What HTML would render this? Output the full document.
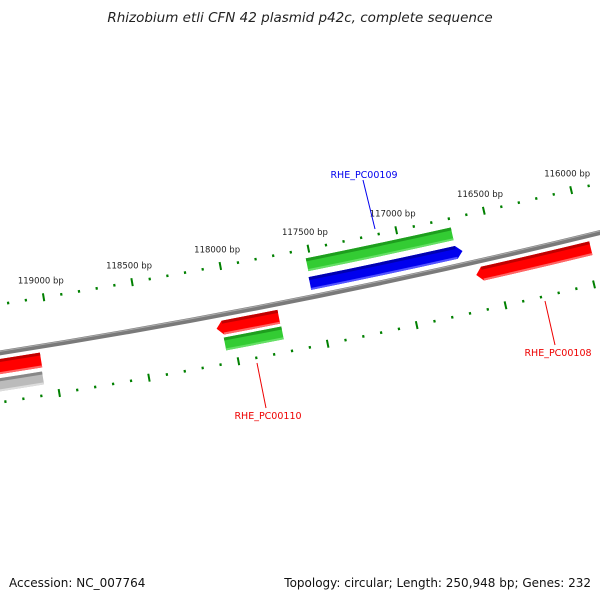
<!DOCTYPE html>
<html><head><meta charset="utf-8"><style>
html,body{margin:0;padding:0;background:#fff;width:600px;height:600px;overflow:hidden}
svg{display:block;font-family:"DejaVu Sans","Liberation Sans",sans-serif}
</style></head><body>
<svg id="map" width="600" height="600" viewBox="0 0 600 600">
<text x="300" y="22" text-anchor="middle" font-size="13.5" font-style="italic" fill="#222">Rhizobium etli CFN 42 plasmid p42c, complete sequence</text>
<text x="9" y="587" font-size="12" fill="#111">Accession: NC_007764</text>
<text x="591" y="587" text-anchor="end" font-size="12" fill="#111">Topology: circular; Length: 250,948 bp; Genes: 232</text>
<g id="layer"></g>
<line x1="363" y1="180" x2="375" y2="229" stroke="#0000ee" stroke-width="1"/>
<text x="364" y="178" text-anchor="middle" font-size="9.5" fill="#0000ee">RHE_PC00109</text>
<line x1="545" y1="301" x2="555" y2="345" stroke="#ee0000" stroke-width="1"/>
<text x="558" y="356" text-anchor="middle" font-size="9.5" fill="#ee0000">RHE_PC00108</text>
<line x1="257" y1="363" x2="266" y2="408" stroke="#ee0000" stroke-width="1"/>
<text x="268" y="419" text-anchor="middle" font-size="9.5" fill="#ee0000">RHE_PC00110</text>
</svg>
<script>
// data
const genomeLength = 250948;
const majorTicks = [116000,116500,117000,117500,118000,118500,119000];
const geneStarts = [116700,116700,115970,117735,117732,119070,119075];
const geneEnds   = [117525,117530,116585,118050,118055,119600,119600];
const geneNames  = ["gene-green-inner","RHE_PC00109","RHE_PC00108","gene-red-lower","RHE_PC00110-green","gene-red-left","gene-gray-left"];

// geometry
const K = 2*Math.PI/genomeLength, BP0 = 125500, CX = -1118, CY = -6777;
function pt(bp,r){const f=(bp-BP0)*K;return [CX - r*Math.sin(f), CY + r*Math.cos(f)];}
const NS="http://www.w3.org/2000/svg";
const layer=document.getElementById('layer');
function mk(tag,attrs){const e=document.createElementNS(NS,tag);for(const k in attrs)e.setAttribute(k,attrs[k]);layer.appendChild(e);return e;}
function band(a,b,r1,r2,arrow){
  const p1=pt(a,r1),p2=pt(b,r1),p3=pt(b,r2),p4=pt(a,r2),rm=(r1+r2)/2;
  let d=`M${p1[0]},${p1[1]} A${r1},${r1} 0 0 0 ${p2[0]},${p2[1]}`;
  if(arrow==='right'){const t=pt(b-35,rm);d+=` L${t[0]},${t[1]}`;}
  d+=` L${p3[0]},${p3[1]} A${r2},${r2} 0 0 1 ${p4[0]},${p4[1]}`;
  if(arrow==='left'){const t=pt(a+35,rm);d+=` L${t[0]},${t[1]}`;}
  return d+'Z';
}
function arcPath(a,b,r){const p1=pt(a,r),p2=pt(b,r);return `M${p1[0]},${p1[1]} A${r},${r} 0 0 0 ${p2[0]},${p2[1]}`;}

// backbone
let e=mk('path',{d:arcPath(120500,115000,7217),stroke:'#7a7a7a','stroke-width':5,fill:'none'});


e=mk('path',{d:arcPath(120500,115000,7215.5),stroke:'#aaa','stroke-width':1,fill:'none'});



// ticks
const ringR=[7169,7266];
for(let ri=0;ri<2;ri++){
  for(let bp=115500;bp<=120000;bp+=100){
    const major = bp%500===0;
    const r=ringR[ri], h=major?4:1.3;
    const a=pt(bp,r-h),b=pt(bp,r+h);
    e=mk('line',{x1:a[0],y1:a[1],x2:b[0],y2:b[1],stroke:'#008000','stroke-width':major?2:2.2});
    
    
  }
}
majorTicks.forEach(bp=>{
  const p=pt(bp,7152);
  e=mk('text',{x:p[0],y:p[1]+3,'text-anchor':'middle','font-size':'8.5',fill:'#222'});
  e.textContent=bp+' bp';
  
  
});

// genes
const tracks=[[7178,7191],[7197,7210],[7223,7237],[7223,7237],[7240,7253],[7223,7238],[7242,7255]];
const fills=['#33cc33','#0000ee','#ff0000','#ff0000','#33cc33','#ff0000','#bbbbbb'];
const darks=['#1e9e1e','#0000b0','#c00000','#c00000','#1e9e1e','#c00000','#888888'];
const lights=['#66e066','#5555ff','#ff6666','#ff6666','#66e066','#ff6666','#dddddd'];
const arrows=['none','right','left','left','none','none','none'];
geneStarts.forEach((s,i)=>{
  const [r1,r2]=tracks[i];
  e=mk('path',{d:band(geneEnds[i],s,r1,r2,arrows[i]),fill:fills[i]});
  
  
  e=mk('path',{d:band(geneEnds[i],s,r1,r1+3,'none'),fill:darks[i]});
  
  
  e=mk('path',{d:band(geneEnds[i],s,r2-2,r2,'none'),fill:lights[i]});
  
  
});
</script>
</body></html>
